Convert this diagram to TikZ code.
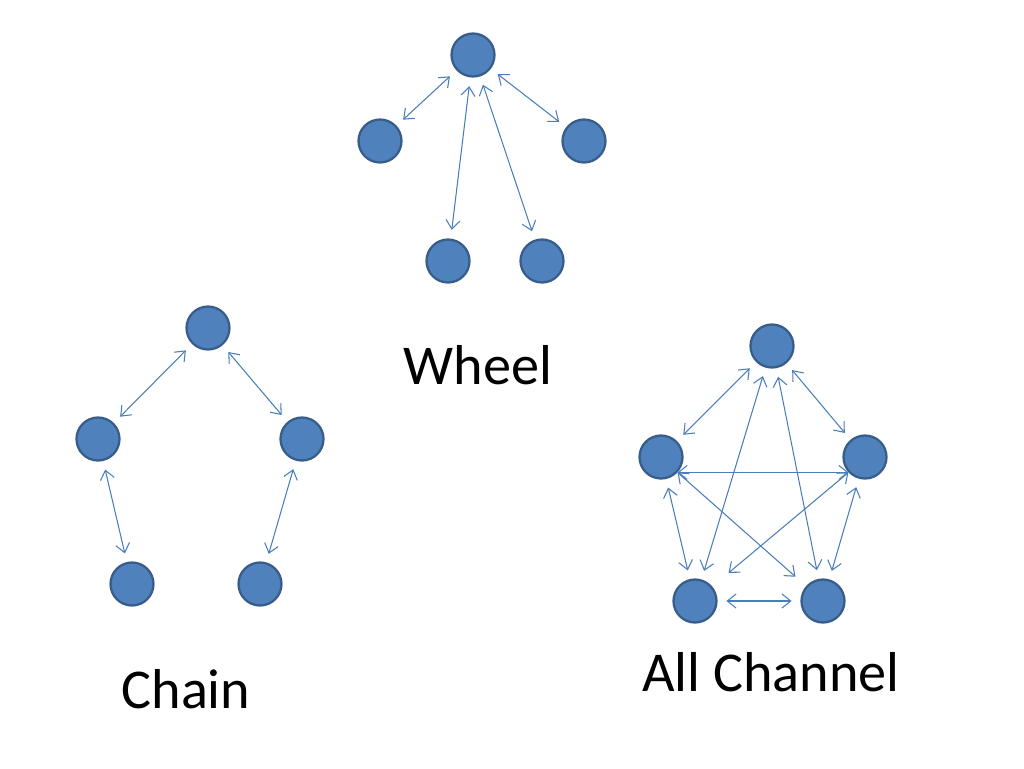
\documentclass[tikz,border=0pt]{standalone}
\usepackage{fontspec}
\setmainfont{Carlito}
\usetikzlibrary{arrows.meta}

\definecolor{dotfill}{HTML}{4F81BD}
\definecolor{dotline}{HTML}{385D8A}
\definecolor{linkblue}{HTML}{4A7EBB}

\begin{document}
\begin{tikzpicture}[x=0.02cm,y=-0.02cm]
          \tikzstyle{every node}=[font=\fontsize{32}{38}\selectfont]
          \tikzstyle{member}=[circle, fill=dotfill, draw=dotline, line width=1.3pt, minimum size=0.86cm, inner sep=0pt]
          \tikzstyle{link}=[{Straight Barb[length=5pt,width=8pt]}-{Straight Barb[length=5pt,width=8pt]}, draw=linkblue, line width=0.6pt, shorten >=5pt, shorten <=5pt]

      \useasboundingbox (0,0) rectangle (1024,768);

      % wheel
      \node[member] (wHub) at (473,55) {};
      \node[member] (wLeft) at (380,141) {};
      \node[member] (wRight) at (584,141) {};
      \node[member] (wLow1) at (448,261) {};
      \node[member] (wLow2) at (542,261) {};
      \draw[link] (wHub) -- (wLeft);
      \draw[link] (wHub) -- (wRight);
      \draw[link] (wHub) -- (wLow1);
      \draw[link] (wHub) -- (wLow2);
      \node (wheelLabel) at (478,365) {Wheel};

      % chain
      \node[member] (cTop) at (208,328) {};
      \node[member] (cLeft) at (98,439) {};
      \node[member] (cRight) at (302,439) {};
      \node[member] (cLow1) at (132,584) {};
      \node[member] (cLow2) at (260,584) {};
      \draw[link] (cTop) -- (cLeft);
      \draw[link] (cTop) -- (cRight);
      \draw[link] (cLeft) -- (cLow1);
      \draw[link] (cRight) -- (cLow2);
      \node (chainLabel) at (186,689) {Chain};

      % all channel
      \node[member] (aTop) at (772,346) {};
      \node[member] (aLeft) at (661,457) {};
      \node[member] (aRight) at (865,457) {};
      \node[member] (aLow1) at (695,601) {};
      \node[member] (aLow2) at (823,601) {};
      \draw[link] (aTop) -- (aLeft);
      \draw[link] (aTop) -- (aRight);
      \draw[link] (aTop) -- (aLow1);
      \draw[link] (aTop) -- (aLow2);
      \draw[link, shorten <=0pt, shorten >=0pt] (aLeft.-43) -- (aRight.-137);
      \draw[link] (aLeft) -- (aLow1);
      \draw[link, shorten <=0pt, shorten >=8pt] (aLeft.-43) -- (aLow2);
      \draw[link, shorten <=0pt, shorten >=12pt] (aRight.-137) -- (aLow1);
      \draw[link] (aRight) -- (aLow2);
      \draw[link] (aLow1) -- (aLow2);
      \node (allLabel) at (771,672) {All Channel};

\end{tikzpicture}
\end{document}
